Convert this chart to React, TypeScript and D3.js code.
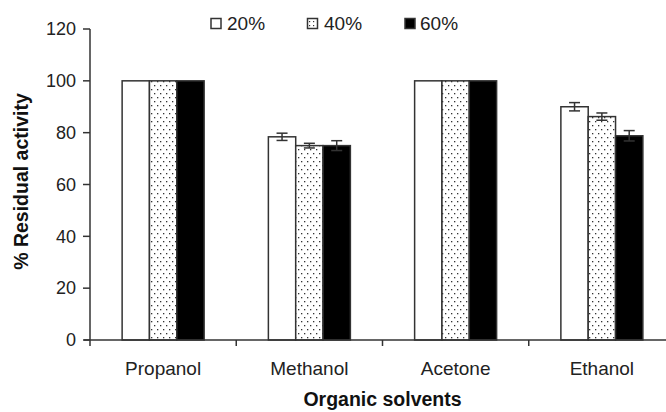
import React from "react";
import * as d3 from "d3";

const categories = ["Propanol", "Methanol", "Acetone", "Ethanol"];
const seriesNames = ["20%", "40%", "60%"];
const values20 = [100, 78.4, 100, 90.0];
const values40 = [100, 75.0, 100, 86.2];
const values60 = [100, 75.0, 100, 78.8];
const err20 = [0, 1.4, 0, 1.6];
const err40 = [0, 0.9, 0, 1.4];
const err60 = [0, 1.9, 0, 2.0];
const yTicks = [0, 20, 40, 60, 80, 100, 120];

const W = 666;
const H = 412;
const FONT = "'Liberation Sans', Arial, sans-serif";
const INK = "#222";
const STROKE = "#333";

export default function App() {
  const y = d3.scaleLinear().domain([0, 120]).range([340, 29]);
  const x0 = d3.scaleBand<string>().domain(categories).range([90, 675]).paddingInner(0).paddingOuter(0);
  const groupW = 82;
  const off = (x0.bandwidth() - groupW) / 2;
  const x1 = d3.scaleBand<string>().domain(seriesNames).range([off, off + groupW]).padding(0);
  const vals = [values20, values40, values60];
  const errs = [err20, err40, err60];
  const fills = ["#fff", "url(#dots)", "#000"];

  const legendX = [211, 307.5, 405];
  const legendTextX = [227, 324, 420];

  return (
    <svg width={W} height={H} style={{ position: "absolute", left: 0, top: 0, background: "#fff" }} fontFamily={FONT}>
      <defs>
        <pattern id="dots" width={6} height={8} patternUnits="userSpaceOnUse">
          <rect width={6} height={8} fill="#fff" />
          <rect x={1} y={1} width={1.3} height={1.3} fill="#333" />
          <rect x={4} y={5} width={1.3} height={1.3} fill="#333" />
        </pattern>
        <pattern id="dotsLeg" width={4} height={4} patternUnits="userSpaceOnUse">
          <rect width={4} height={4} fill="#fff" />
          <rect x={1} y={1} width={1.2} height={1.2} fill="#333" />
        </pattern>
      </defs>

      {/* bars */}
      {categories.map((c, ci) =>
        seriesNames.map((s, si) => {
          const v = vals[si][ci];
          const bx = (x0(c) as number) + (x1(s) as number);
          const bw = x1.bandwidth();
          return (
            <rect key={c + s} x={bx} y={y(v)} width={bw} height={y(0) - y(v)}
              fill={fills[si]} stroke={STROKE} strokeWidth={1.5} />
          );
        })
      )}

      {/* error bars */}
      {categories.map((c, ci) =>
        seriesNames.map((s, si) => {
          const v = vals[si][ci];
          const e = errs[si][ci];
          if (!e) return null;
          const cx = (x0(c) as number) + (x1(s) as number) + x1.bandwidth() / 2;
          const col = si === 2 ? "#333" : STROKE;
          return (
            <g key={"e" + c + s} stroke={col} strokeWidth={1.5}>
              <line x1={cx} x2={cx} y1={y(v + e)} y2={y(v - e)} />
              <line x1={cx - 5.5} x2={cx + 5.5} y1={y(v + e)} y2={y(v + e)} />
              <line x1={cx - 5.5} x2={cx + 5.5} y1={y(v - e)} y2={y(v - e)} />
            </g>
          );
        })
      )}

      {/* y axis */}
      <line x1={90} x2={90} y1={y(120)} y2={y(0)} stroke={STROKE} strokeWidth={1.5} />
      {yTicks.map((t) => (
        <g key={t}>
          <line x1={83} x2={90} y1={y(t)} y2={y(t)} stroke={STROKE} strokeWidth={1.5} />
          <text x={76} y={y(t) + 6.3} textAnchor="end" fontSize={18} fill={INK}>{t}</text>
        </g>
      ))}

      {/* x axis */}
      <line x1={84} x2={W} y1={y(0)} y2={y(0)} stroke={STROKE} strokeWidth={1.5} />
      {categories.map((c) => (
        <line key={"t" + c} x1={x0(c) as number} x2={x0(c) as number} y1={y(0)} y2={y(0) + 6} stroke={STROKE} strokeWidth={1.5} />
      ))}
      {categories.map((c) => (
        <text key={"l" + c} x={(x0(c) as number) + x0.bandwidth() / 2} y={374.5} textAnchor="middle" fontSize={19} fill={INK}>{c}</text>
      ))}

      {/* axis titles */}
      <text x={(90 + 675) / 2} y={405.5} textAnchor="middle" fontSize={19.5} fontWeight="bold" fill="#111">Organic solvents</text>
      <text transform="translate(27.5,181.5) rotate(-90)" textAnchor="middle" fontSize={19.5} fontWeight="bold" fill="#111">% Residual activity</text>

      {/* legend */}
      {seriesNames.map((s, i) => (
        <g key={"lg" + s}>
          <rect x={legendX[i]} y={18.5} width={10} height={10}
            fill={i === 0 ? "#fff" : i === 1 ? "url(#dotsLeg)" : "#000"} stroke={STROKE} strokeWidth={1.5} />
          <text x={legendTextX[i]} y={29.5} fontSize={19} fill={INK}>{s}</text>
        </g>
      ))}
    </svg>
  );
}
